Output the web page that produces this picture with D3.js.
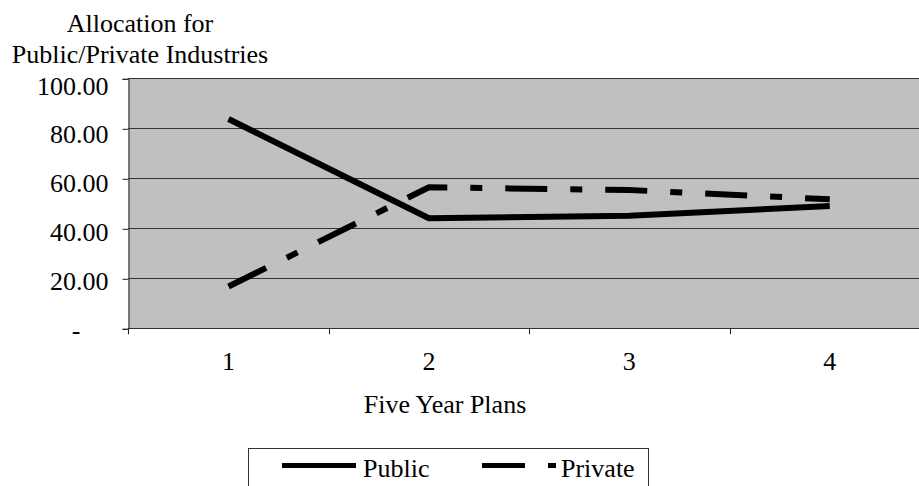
<!DOCTYPE html>
<html><head><meta charset="utf-8">
<script src="https://cdn.jsdelivr.net/npm/d3@7"></script>
<style>
body{margin:0;background:#fff}
svg{display:block}
svg text{font-family:'Liberation Serif','Times New Roman',Times,serif !important;font-size:26px !important;fill:#000}
</style>
</head><body><svg id="c" width="919" height="486"></svg>
<script>
const categories = [1, 2, 3, 4];
const publicValues = [83.7, 44.0, 45.0, 48.9];
const privateValues = [16.7, 56.4, 55.3, 51.6];
const yTickValues = [0, 20, 40, 60, 80, 100];
const yTickLabels = ["-", "20.00", "40.00", "60.00", "80.00", "100.00"];
const titleLines = ["Allocation for", "Public/Private Industries"];
const xTitle = "Five Year Plans";
const seriesNames = ["Public", "Private"];

const svg = d3.select("#c");
const L = 128.3, R = 930, T = 78.3, B = 328.3;
const x = d3.scaleBand().domain(categories).range([L, R]);
const y = d3.scaleLinear().domain([0, 100]).range([B, T]);
// tick-label baselines (labels sit slightly below their gridlines, as in the original)
const yLabel = d3.scaleLinear().domain([0, 100]).range([338, 94]);
const cx = d => x(d) + x.bandwidth() / 2;

svg.append("rect").attr("x", L).attr("y", T).attr("width", R - L).attr("height", B - T).attr("fill", "#c0c0c0");

svg.append("g").selectAll("line").data(yTickValues).join("line")
  .attr("x1", L).attr("x2", R).attr("y1", d => Math.round(y(d)) + 0.5).attr("y2", d => Math.round(y(d)) + 0.5)
  .attr("stroke", "#333").attr("stroke-width", 1);

const yAxis = d3.axisLeft(y).tickValues(yTickValues).tickSize(6).tickPadding(14)
  .tickFormat((d, i) => yTickLabels[i]);
const gy = svg.append("g").attr("transform", `translate(${Math.round(L) + 0.5},0.5)`).call(yAxis);
gy.attr("font-family", null).attr("font-size", null);
gy.select(".domain").attr("stroke", "#222");
gy.selectAll(".tick line").attr("stroke", "#222");
gy.selectAll(".tick text").attr("dy", null).attr("y", d => yLabel(d) - y(d) - 0.5);
gy.selectAll(".tick").filter(d => d === 0).select("text").attr("x", -48);

const xAxis = d3.axisBottom(x).tickSize(0).tickPadding(23);
const gx = svg.append("g").attr("transform", `translate(0,${Math.round(B) + 0.5})`).call(xAxis);
gx.attr("font-family", null).attr("font-size", null);
gx.select(".domain").remove();
svg.append("g").selectAll("line").data(categories.concat([null])).join("line")
  .attr("x1", (d, i) => Math.round(L + i * x.step()) + 0.5)
  .attr("x2", (d, i) => Math.round(L + i * x.step()) + 0.5)
  .attr("y1", B).attr("y2", B + 6).attr("stroke", "#222");

const line = d3.line().x((d, i) => cx(categories[i])).y(d => y(d));
svg.append("path").datum(publicValues).attr("d", line).attr("fill", "none")
  .attr("stroke", "#000").attr("stroke-width", 6).attr("stroke-linejoin", "round");
svg.append("path").datum(privateValues).attr("d", line).attr("fill", "none")
  .attr("stroke", "#000").attr("stroke-width", 6).attr("stroke-dasharray", "42,23,12,23");

svg.append("text").attr("text-anchor", "middle")
  .selectAll("tspan").data(titleLines).join("tspan")
  .attr("x", 140).attr("y", (d, i) => 31.5 + i * 31).text(d => d);
svg.append("text").attr("x", 445).attr("y", 413).attr("text-anchor", "middle").text(xTitle);

const lg = svg.append("g");
lg.append("rect").attr("x", 248.5).attr("y", 448.5).attr("width", 400).attr("height", 60)
  .attr("fill", "#fff").attr("stroke", "#333");
lg.append("line").attr("x1", 282).attr("x2", 356).attr("y1", 465.5).attr("y2", 465.5).attr("stroke", "#000").attr("stroke-width", 5);
lg.append("text").attr("x", 363).attr("y", 477).text(seriesNames[0]);
lg.append("line").attr("x1", 482).attr("x2", 556).attr("y1", 465.5).attr("y2", 465.5).attr("stroke", "#000").attr("stroke-width", 5)
  .attr("stroke-dasharray", "43,23,8,23");
lg.append("text").attr("x", 561).attr("y", 477).text(seriesNames[1]);
</script></body></html>
